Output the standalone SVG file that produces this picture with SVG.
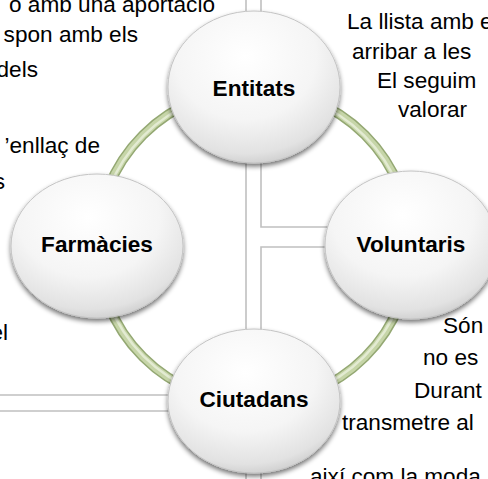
<svg xmlns="http://www.w3.org/2000/svg" width="488" height="479" viewBox="0 0 488 479">
<style>
.grid{fill:none;stroke:#c0c0c0;stroke-width:1.6}
.body{font-family:"Liberation Sans",Arial,sans-serif;font-size:22.6px;fill:#000}
.lbl{font-family:"Liberation Sans",Arial,sans-serif;font-size:22.6px;font-weight:bold;fill:#000;text-anchor:middle}
.node{fill:url(#ball);stroke:#c4c4c4;stroke-width:1;filter:url(#sh)}
</style>
<defs>
<radialGradient id="ball" cx="0.45" cy="0.3" r="0.75">
<stop offset="0" stop-color="#ffffff"/>
<stop offset="0.55" stop-color="#f5f5f5"/>
<stop offset="0.85" stop-color="#e2e2e2"/>
<stop offset="1" stop-color="#c6c6c6"/>
</radialGradient>
<filter id="sh" x="-20%" y="-20%" width="140%" height="150%">
<feGaussianBlur in="SourceAlpha" stdDeviation="2.5"/>
<feOffset dy="3" result="b"/>
<feComponentTransfer><feFuncA type="linear" slope="0.55"/></feComponentTransfer>
<feMerge><feMergeNode/><feMergeNode in="SourceGraphic"/></feMerge>
</filter>
</defs>
<rect width="488" height="479" fill="#fff"/>
<g id="grid">
<path class="grid" d="M246,0 V395 H0"/>
<path class="grid" d="M0,411 H246 V479"/>
<path class="grid" d="M261,0 V227 H488"/>
<path class="grid" d="M488,247 H261 V479"/>
</g>
<g id="text-left" class="body" text-anchor="end">
<text x="215" y="12">o amb una aportació</text>
<text x="138" y="42">spon amb els</text>
<text x="38" y="77">dels</text>
<text x="100" y="153">’enllaç de</text>
<text x="5" y="189">s</text>
<text x="8" y="340">el</text>
</g>
<g id="text-right" class="body">
<text x="347" y="29">La llista amb e</text>
<text x="352" y="59">arribar a les</text>
<text x="377" y="88">El seguim</text>
<text x="398" y="117">valorar</text>
<text x="443" y="333">Són</text>
<text x="423" y="365">no es</text>
<text x="414" y="398">Durant</text>
<text x="342" y="430">transmetre al</text>
<text x="310" y="484">així com la moda</text>
</g>
<g id="connectors">
<circle cx="254" cy="246" r="157" fill="none" stroke="#94a873" stroke-width="10"/>
<circle cx="254" cy="246" r="157" fill="none" stroke="#c6d5a8" stroke-width="7"/>
<circle cx="254" cy="246" r="156" fill="none" stroke="#e3ebd2" stroke-width="2.5"/>
</g>
<g id="entitats">
<ellipse class="node" cx="254" cy="87" rx="86" ry="76"/>
<text class="lbl" x="254" y="96">Entitats</text>
</g>
<g id="farmacies">
<ellipse class="node" cx="97" cy="246" rx="86" ry="72"/>
<text class="lbl" x="97" y="252">Farmàcies</text>
</g>
<g id="voluntaris">
<ellipse class="node" cx="411" cy="245" rx="86" ry="74"/>
<text class="lbl" x="411" y="252">Voluntaris</text>
</g>
<g id="ciutadans">
<ellipse class="node" cx="254" cy="401" rx="86" ry="72"/>
<text class="lbl" x="254" y="407">Ciutadans</text>
</g>
</svg>
